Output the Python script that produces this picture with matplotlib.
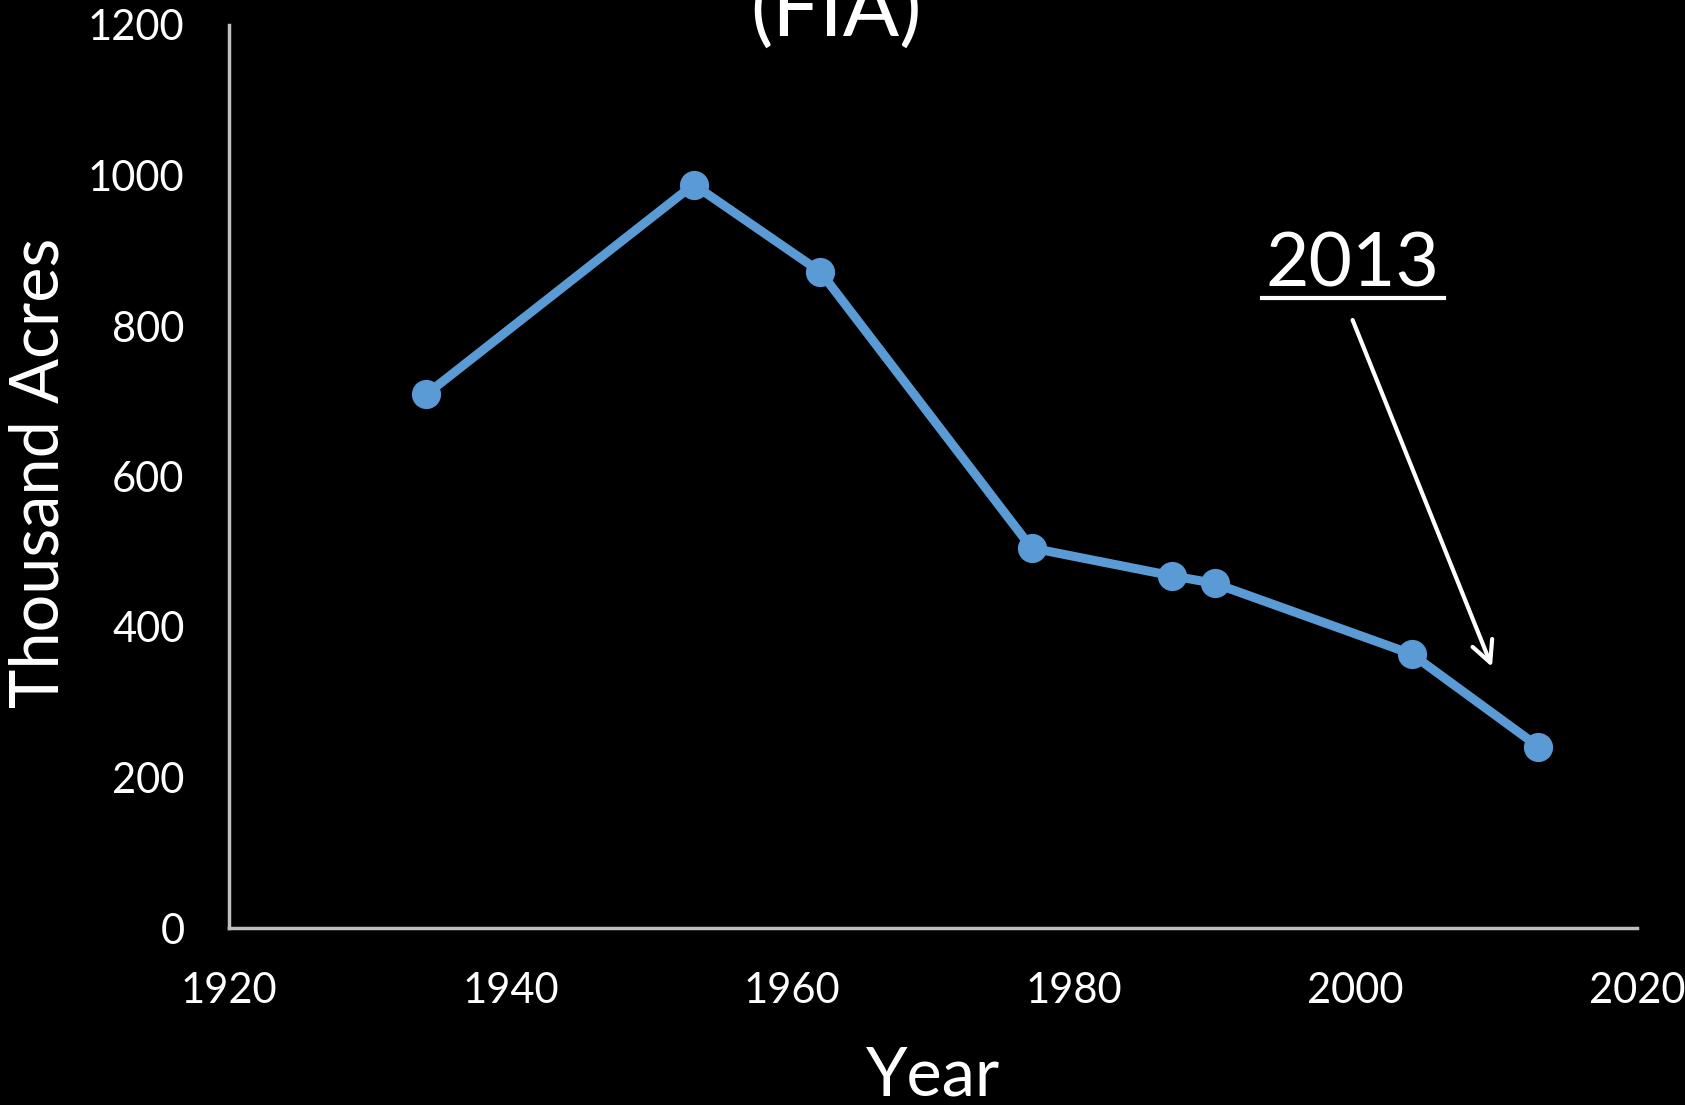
import matplotlib
matplotlib.use("Agg")
import matplotlib.pyplot as plt
from matplotlib.lines import Line2D

plt.rcParams['font.family'] = ['Lato', 'DejaVu Sans']

years = [1934, 1953, 1962, 1977, 1987, 1990, 2004, 2013]
acres = [709, 988, 872, 505, 468, 458, 364, 241]
xticks = [1920, 1940, 1960, 1980, 2000, 2020]
yticks = [0, 200, 400, 600, 800, 1000, 1200]
title = "(FIA)"
xlabel = "Year"
ylabel = "Thousand Acres"
note = "2013"

W, H = 1685, 1105
fig = plt.figure(figsize=(W / 100, H / 100), dpi=100, facecolor='black')
ax = fig.add_axes([229 / W, 1 - 928 / H, (1637 - 229) / W, (928 - 25) / H])
ax.set_facecolor('black')

ax.plot(years, acres, color='#5B9BD5', lw=6.5, marker='o', ms=20,
        markerfacecolor='#5B9BD5', markeredgecolor='#5B9BD5', solid_joinstyle='round',
        clip_on=False, zorder=3)

ax.set_xlim(1920, 2020)
ax.set_ylim(0, 1200)
ax.set_xticks(xticks)
ax.set_yticks(yticks)
ax.tick_params(axis='both', length=0, colors='white', labelsize=30)
ax.tick_params(axis='y', pad=32)
ax.tick_params(axis='x', pad=32)
for s in ['top', 'right']:
    ax.spines[s].set_visible(False)
for s in ['left', 'bottom']:
    ax.spines[s].set_color('#BFBFBF')
    ax.spines[s].set_linewidth(2.5)

fig.text(836 / W, 1 - 37 / H, title, color='white', fontsize=60, ha='center', va='baseline')
fig.text(933 / W, 1 - 1096 / H, xlabel, color='white', fontsize=48, ha='center', va='baseline')
fig.text(40 / W, 1 - 473 / H, ylabel, color='white', fontsize=48, ha='center', va='center', rotation=90)

tx, ty = 1999.8, 852
t = ax.text(tx, ty, note, color='white', fontsize=54, ha='center', va='baseline')
ax.annotate('', xy=(2009.7, 347), xytext=(1999.8, 808),
            arrowprops=dict(arrowstyle='->', color='white', lw=3, mutation_scale=38,
                            shrinkA=0, shrinkB=0))

fig.canvas.draw()
bb = t.get_window_extent()
base = ax.transData.transform((tx, ty))[1]
uy = base - 11
fig.add_artist(Line2D([bb.x0 - 4, bb.x1 + 4], [uy, uy], transform=None, color='white', lw=3))

fig.savefig('out.png', dpi=100, facecolor='black')
